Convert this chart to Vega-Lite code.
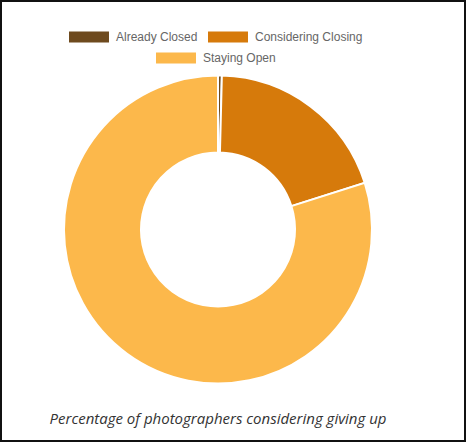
{
  "$schema": "https://vega.github.io/schema/vega-lite/v6.json",
  "autosize": "none",
  "padding": {"left": 0, "top": 74, "right": 30, "bottom": 57},
  "width": 436,
  "height": 311,
  "background": "white",
  "title": {
    "text": "Percentage of photographers considering giving up",
    "orient": "bottom",
    "anchor": "middle",
    "frame": "group",
    "offset": -30,
    "font": "Open Sans",
    "fontStyle": "italic",
    "fontWeight": "normal",
    "fontSize": 15,
    "color": "#333333"
  },
  "data": {
    "values": [
      {"status": "Already Closed", "percent": 0.4},
      {"status": "Considering Closing", "percent": 19.7},
      {"status": "Staying Open", "percent": 79.9}
    ]
  },
  "layer": [
    {
      "mark": {"type": "arc", "innerRadius": 77, "outerRadius": 154, "stroke": "white", "strokeWidth": 2},
      "encoding": {
        "theta": {"field": "percent", "type": "quantitative", "stack": true},
        "order": {"field": "status", "type": "nominal"},
        "color": {
          "field": "status",
          "type": "nominal",
          "scale": {
            "domain": ["Already Closed", "Considering Closing", "Staying Open"],
            "range": ["#6e4a1e", "#d67a0b", "#fcb84b"]
          },
          "legend": {
            "values": ["Already Closed", "Considering Closing"],
            "orient": "top",
            "direction": "horizontal",
            "title": null
          }
        }
      }
    },
    {
      "mark": {"type": "arc", "innerRadius": 77, "outerRadius": 154, "opacity": 0},
      "encoding": {
        "theta": {"field": "percent", "type": "quantitative", "stack": true},
        "order": {"field": "status", "type": "nominal"},
        "color": {
          "field": "status",
          "type": "nominal",
          "scale": {
            "domain": ["Already Closed", "Considering Closing", "Staying Open"],
            "range": ["#6e4a1e", "#d67a0b", "#fcb84b"]
          },
          "legend": {
            "values": ["Staying Open"],
            "orient": "top",
            "direction": "horizontal",
            "title": null,
            "symbolOpacity": 1
          }
        }
      }
    },
    {
      "data": {"values": [{"frame": "outline"}]},
      "mark": {"type": "rect", "filled": false, "stroke": "#111111", "strokeWidth": 2},
      "encoding": {
        "x": {"value": 1},
        "x2": {"value": {"expr": "width + 29"}},
        "y": {"value": -73},
        "y2": {"value": {"expr": "height + 56"}}
      }
    }
  ],
  "resolve": {"scale": {"color": "independent", "theta": "independent"}, "legend": {"color": "independent"}},
  "config": {
    "view": {"stroke": null},
    "legend": {
      "symbolType": "M-1.333,-0.367H1.333V0.367H-1.333Z",
      "symbolSize": 900,
      "symbolStrokeWidth": 0,
      "labelFont": "Liberation Sans",
      "labelFontSize": 12,
      "labelColor": "#666666",
      "labelOffset": 12,
      "columnPadding": 10,
      "padding": 0,
      "offset": 10,
      "layout": {"top": {"anchor": "middle", "direction": "vertical", "center": true, "margin": 0}}
    }
  }
}
